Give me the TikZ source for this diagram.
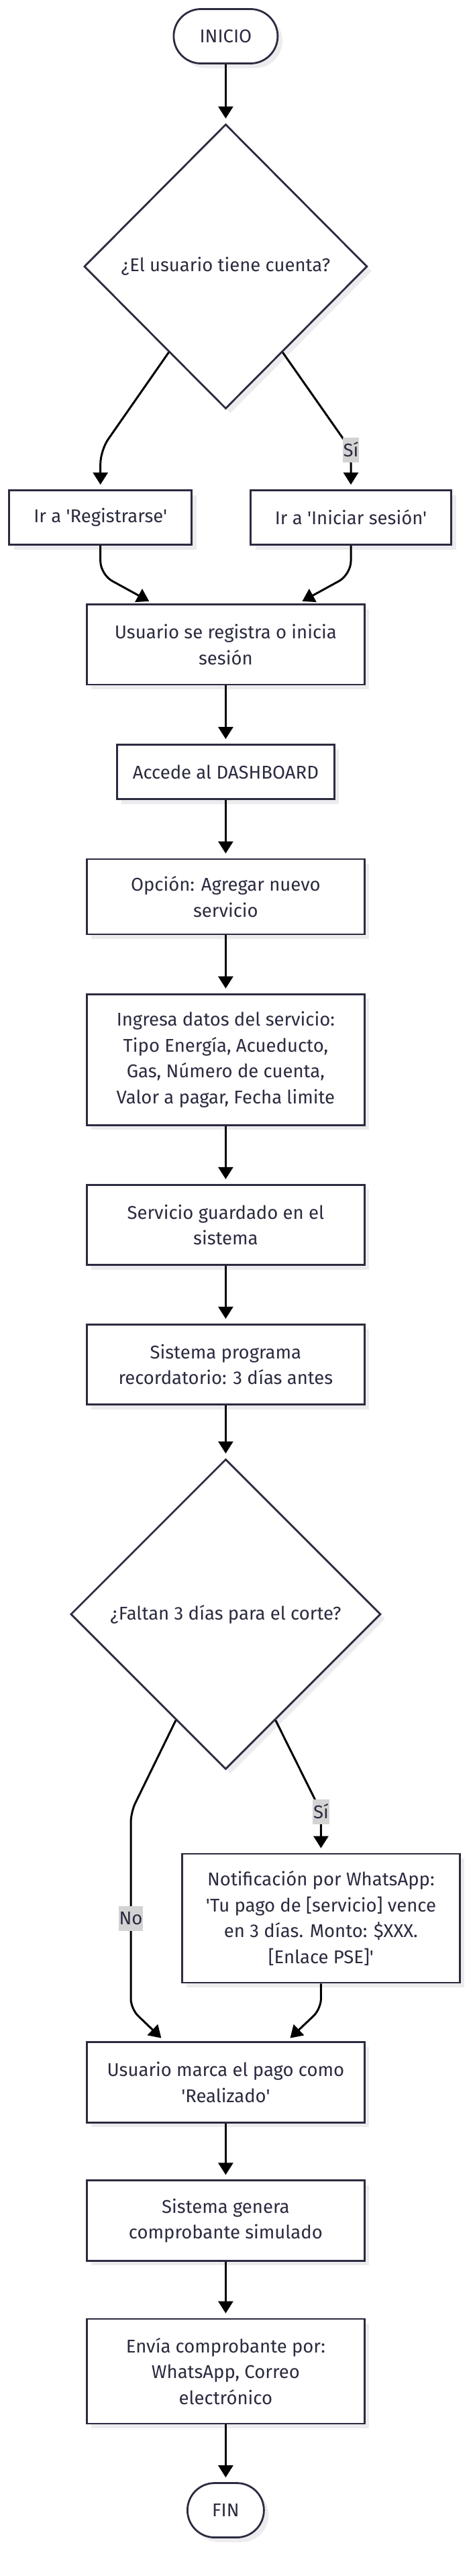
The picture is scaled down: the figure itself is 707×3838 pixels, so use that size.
\documentclass[tikz,border=0pt]{standalone}
\usepackage{fontspec}
\setmainfont{Fira Sans}[Ligatures=TeXOff]
\usepackage{xcolor}
\usepackage{tikz}
\usetikzlibrary{shapes.geometric,arrows.meta,calc,shadows}
\definecolor{linea}{HTML}{2B2B40}
\definecolor{etiq}{HTML}{D3D3D3}
\definecolor{sombra}{HTML}{ECECEF}

\begin{document}
\begin{tikzpicture}[x=1pt,y=-1pt,
  caja/.style={draw=linea,line width=2.8pt,fill=white,text=linea,align=center,inner sep=0pt,
    font=\fontsize{27.5}{38.5}\selectfont,
    drop shadow={shadow xshift=7pt,shadow yshift=-7pt,fill=sombra,opacity=1}},
  term/.style={caja,rounded corners=40.5pt,minimum height=81pt},
  rombo/.style={caja,diamond},
  flecha/.style={line width=3pt,-{Triangle[width=22pt,length=18pt]},shorten >=7pt,rounded corners=20pt},
  lbl/.style={fill=etiq,sharp corners,text=linea,inner xsep=1pt,inner ysep=0pt,minimum height=37pt,
    font=\fontsize{27.5}{30}\selectfont}]
\useasboundingbox (0,0) rectangle (707,3838);

% nodos
\node[term,minimum width=155pt] (inicio) at (336.4,54) {INICIO};
\node[rombo,minimum width=422pt,minimum height=424pt] (cuenta) at (336.4,397) {¿El usuario tiene cuenta?};
\node[caja,minimum width=272pt,minimum height=81pt] (reg) at (149.7,771) {Ir a 'Registrarse'};
\node[caja,minimum width=299pt,minimum height=81pt] (ini) at (523,771) {Ir a 'Iniciar sesión'};
\node[caja,minimum width=414pt,minimum height=119.5pt] (usr) at (336.4,960.3) {Usuario se registra o inicia\\sesión};
\node[caja,minimum width=324pt,minimum height=81pt] (acc) at (336.4,1150) {Accede al DASHBOARD};
\node[caja,minimum width=414pt,minimum height=112pt] (opc) at (336.4,1336) {Opción: Agregar nuevo\\servicio};
\node[caja,minimum width=414pt,minimum height=195pt] (ing) at (336.4,1578.6) {Ingresa datos del servicio:\\Tipo Energía, Acueducto,\\Gas, Número de cuenta,\\Valor a pagar, Fecha limite};
\node[caja,minimum width=414pt,minimum height=119.5pt] (srv) at (336.4,1825) {Servicio guardado en el\\sistema};
\node[caja,minimum width=414pt,minimum height=119.5pt] (prog) at (336.4,2033) {Sistema programa\\recordatorio: 3 días antes};
\node[rombo,minimum width=462pt,minimum height=462pt] (corte) at (336.4,2405) {¿Faltan 3 días para el corte?};
\node[caja,minimum width=414pt,minimum height=192pt] (notif) at (478.4,2858) {Notificación por WhatsApp:\\'Tu pago de [servicio] vence\\en 3 días. Monto: \$XXX.\\{[}Enlace PSE{]}'};
\node[caja,minimum width=414pt,minimum height=119.5pt] (marca) at (336.4,3102.5) {Usuario marca el pago como\\'Realizado'};
\node[caja,minimum width=414pt,minimum height=119.5pt] (gen) at (336.4,3308.5) {Sistema genera\\comprobante simulado};
\node[caja,minimum width=414pt,minimum height=156pt] (env) at (336.4,3533) {Envía comprobante por:\\WhatsApp, Correo\\electrónico};
\node[term,minimum width=114pt] (fin) at (336.4,3740) {FIN};

% quiebres
\coordinate (c1) at (149.7,671);
\coordinate (c2) at (523,670);
\coordinate (c3) at (149.7,856);
\coordinate (c4) at (523,856);
\coordinate (c5) at (195,2700);
\coordinate (c6) at (195,2993);
\coordinate (c7) at (478.4,2699);
\coordinate (c8) at (478.4,2993);

% conectores
\draw[flecha] (inicio) -- (cuenta);
\draw[flecha] ($(cuenta.west)!0.6!(cuenta.south)$) -- (c1) -- (reg.north);
\draw[flecha] ($(cuenta.east)!0.6!(cuenta.south)$) -- (c2) node[lbl] {Sí} -- (ini.north);
\draw[flecha] (reg.south) -- (c3) -- ([xshift=-108pt]usr.north);
\draw[flecha] (ini.south) -- (c4) -- ([xshift=108pt]usr.north);
\draw[flecha] (usr) -- (acc);
\draw[flecha] (acc) -- (opc);
\draw[flecha] (opc) -- (ing);
\draw[flecha] (ing) -- (srv);
\draw[flecha] (srv) -- (prog);
\draw[flecha] (prog) -- (corte);
\draw[flecha,rounded corners=15pt] ($(corte.west)!0.68!(corte.south)$) -- (c5) -- node[lbl,pos=0.54] {No} (c6) -- ([xshift=-91pt]marca.north);
\draw[flecha] ($(corte.east)!0.68!(corte.south)$) -- (c7) node[lbl] {Sí} -- (notif.north);
\draw[flecha,rounded corners=15pt] (notif.south) -- (c8) -- ([xshift=91pt]marca.north);
\draw[flecha] (marca) -- (gen);
\draw[flecha] (gen) -- (env);
\draw[flecha] (env) -- (fin);
\end{tikzpicture}
\end{document}
